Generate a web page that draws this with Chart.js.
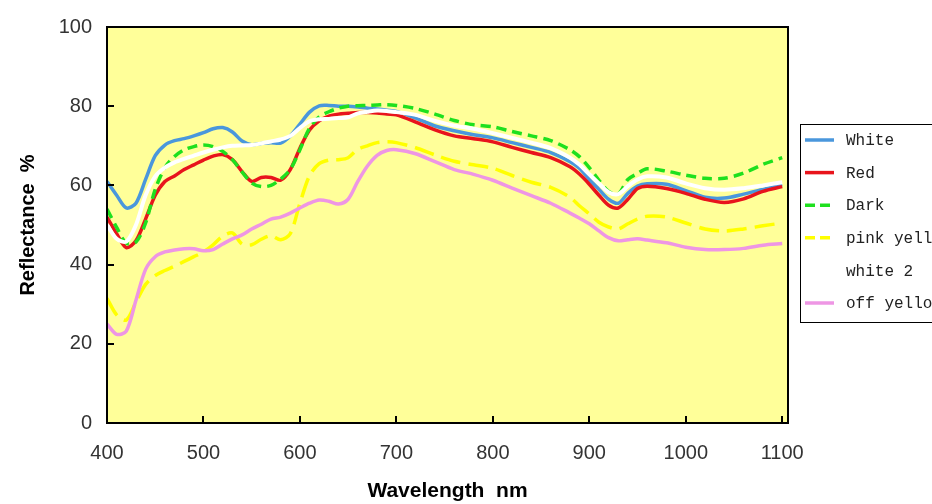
<!DOCTYPE html>
<html>
<head>
<meta charset="utf-8">
<script src="https://cdn.jsdelivr.net/npm/chart.js@4"></script>
<style>
  html, body { margin: 0; padding: 0; background: #fff; overflow: hidden; }
  #wrap { width: 932px; height: 504px; }
</style>
</head>
<body>
<div id="wrap"><canvas id="reflChart" width="932" height="504"></canvas></div>
<script>
// wavelength grid (nm) shared by all samples
const wavelengths = [400, 410, 420, 430, 440, 450, 460, 470, 480, 490, 500, 510, 520, 530, 540, 550, 560, 570, 580, 590,
    600, 610, 620, 630, 640, 650, 660, 670, 680, 690, 700, 720, 740, 760, 780, 800, 820, 840, 860, 880,
    890, 900, 910, 920, 930, 940, 950, 960, 980, 1000, 1020, 1040, 1060, 1080, 1100];

// reflectance % per sample
const white = [61, 57.5, 54.3, 55.5, 61.5, 67.5, 70.2, 71.3, 71.8, 72.5, 73.3, 74.3, 74.6, 73.5, 71.2, 70.3, 70.6, 70.8, 70.7, 72.5,
    75.5, 78.5, 80.1, 80.2, 80, 80, 79.8, 79.5, 79.3, 79, 78.7, 77, 75, 73.8, 72.8, 72, 70.8, 69.6, 68.3, 66,
    64.3, 61.5, 59, 56.5, 55.5, 58, 59.8, 60.4, 60.3, 58.7, 57, 56.8, 57.8, 59, 60.2];
const red = [52, 47.8, 44.3, 46, 51.5, 57.5, 61, 62.4, 64, 65.2, 66.4, 67.4, 67.8, 66.5, 63.5, 61, 62, 62, 61.3, 64,
    69.4, 74, 76.3, 77.5, 78, 78.2, 78.4, 78.4, 78.3, 78, 77.8, 76, 74, 72.5, 71.8, 71, 69.6, 68.3, 67, 64.7,
    62.8, 60.3, 57.5, 55, 54.3, 56.5, 59.2, 59.8, 59.2, 58, 56.5, 55.7, 56.6, 58.5, 59.7];
const dark = [54, 49.4, 45.4, 45.7, 50.5, 59, 64.5, 67.3, 69, 69.8, 70.2, 69.8, 68.6, 66.5, 63.4, 60.6, 59.7, 60, 61.6, 64,
    69, 74.5, 77.3, 78.6, 79.5, 80, 80.1, 80.2, 80.3, 80.4, 80.2, 79.4, 78, 76.4, 75.3, 74.8, 73.6, 72.5, 71.3, 69,
    67.2, 64.5, 61.3, 58.5, 57.8, 61.5, 63, 64.2, 63.6, 62.6, 61.8, 61.8, 63.1, 65.3, 67];
const pinkYellow = [31.5, 27.3, 26, 30.5, 35, 37.2, 38.5, 39.6, 40.8, 42, 43.2, 45, 47.2, 48, 45.2, 45, 46.4, 47.3, 46.3, 47.8,
    55.5, 62.5, 65.5, 66.4, 66.5, 67, 69.1, 70, 70.8, 71, 70.8, 69.5, 67.7, 66.1, 65.2, 64.3, 62.5, 60.8, 59.5, 57,
    54.8, 52.8, 50.7, 49.5, 49, 50.3, 51.5, 52.2, 52, 50.5, 49, 48.5, 49, 49.8, 50.5];
const white2 = [50, 46.5, 45.8, 50, 57.5, 62.3, 64.5, 65.8, 66.7, 67.5, 68.3, 69, 69.6, 70, 70.1, 70.2, 70.6, 71.1, 71.6, 72.5,
    74.5, 76.2, 76.7, 76.8, 77, 77.2, 78.2, 78.6, 78.9, 78.8, 78.5, 77.8, 76.3, 75.1, 74.3, 73.2, 72, 70.8, 69.4, 67,
    65.2, 62.8, 60.5, 58.3, 57.8, 59.8, 61.5, 62.3, 62, 60.5, 59.3, 58.9, 59.3, 60, 60.8];
const offYellow = [25, 22.4, 23.2, 31, 38.8, 42, 43.2, 43.7, 44, 44, 43.5, 43.8, 45.2, 46.5, 47.5, 49, 50.2, 51.5, 52, 53,
    54.3, 55.5, 56.3, 56, 55.3, 56.5, 61, 64.9, 67.6, 68.8, 69, 68, 66, 64, 62.8, 61.3, 59.3, 57.4, 55.5, 53,
    51.7, 50.3, 48.5, 46.8, 46, 46.3, 46.5, 46.2, 45.5, 44.4, 43.8, 43.8, 44.1, 44.9, 45.3];

const xTicks = [400, 500, 600, 700, 800, 900, 1000, 1100];
const yTicks = [0, 20, 40, 60, 80, 100];

const series = [
    { label: 'White', values: white, color: '#4a97dc', dash: [], width: 3.5 },
    { label: 'Red', values: red, color: '#e8141c', dash: [], width: 3.5 },
    { label: 'Dark', values: dark, color: '#1ee01e', dash: [10, 6], width: 3.5 },
    { label: 'pink yellow', values: pinkYellow, color: '#ffff00', dash: [20, 8], width: 3.5 },
    { label: 'white 2', values: white2, color: '#ffffff', dash: [], width: 4 },
    { label: 'off yellow', values: offYellow, color: '#ee96e4', dash: [], width: 3.5 },
];

// yellow plot background, black frame and inward tick marks
const plotFrame = {
    id: 'plotFrame',
    beforeDatasetsDraw(chart) {
        const { ctx, chartArea: a } = chart;
        ctx.save();
        ctx.fillStyle = '#ffff99';
        ctx.fillRect(a.left, a.top, a.right - a.left, a.bottom - a.top);
        ctx.restore();
    },
    afterDatasetsDraw(chart) {
        const { ctx, chartArea: a, scales } = chart;
        ctx.save();
        ctx.strokeStyle = '#000';
        ctx.lineWidth = 2;
        ctx.beginPath();
        yTicks.forEach(v => {
            const y = Math.round(scales.y.getPixelForValue(v));
            ctx.moveTo(a.left, y);
            ctx.lineTo(a.left + 7, y);
        });
        xTicks.forEach(v => {
            const x = Math.round(scales.x.getPixelForValue(v));
            ctx.moveTo(x, a.bottom);
            ctx.lineTo(x, a.bottom - 7);
        });
        ctx.stroke();
        ctx.strokeRect(a.left, a.top, a.right - a.left, a.bottom - a.top);
        ctx.restore();
    }
};

// boxed legend on the right, runs past the canvas edge
const boxLegend = {
    id: 'boxLegend',
    afterDraw(chart) {
        const { ctx } = chart;
        ctx.save();
        ctx.fillStyle = '#fff';
        ctx.fillRect(800, 124, 160, 198);
        ctx.strokeStyle = '#000';
        ctx.lineWidth = 1;
        ctx.strokeRect(800.5, 124.5, 160, 198);
        ctx.font = '16px "Liberation Mono", "DejaVu Sans Mono", monospace';
        ctx.textBaseline = 'middle';
        series.forEach((s, i) => {
            const y = 140 + i * 32.6;
            ctx.strokeStyle = s.color;
            ctx.lineWidth = 3.5;
            ctx.setLineDash(s.dash.length ? [10, 5] : []);
            ctx.beginPath();
            ctx.moveTo(805, y);
            ctx.lineTo(834, y);
            ctx.stroke();
            ctx.setLineDash([]);
            ctx.fillStyle = '#222';
            ctx.fillText(s.label, 846, y + 1);
        });
        ctx.restore();
    }
};

new Chart(document.getElementById('reflChart'), {
    type: 'line',
    data: {
        datasets: series.map((s, i) => ({
            label: s.label,
            data: wavelengths.map((w, j) => ({ x: w, y: s.values[j] })),
            borderColor: s.color,
            borderDash: s.dash,
            borderWidth: s.width,
            pointRadius: 0,
            fill: false,
            tension: 0.3,
            order: series.length - 1 - i,
        }))
    },
    options: {
        responsive: false,
        animation: false,
        devicePixelRatio: 1,
        layout: { padding: { left: 0, top: 20, right: 144, bottom: 0 } },
        plugins: {
            legend: { display: false },
            tooltip: { enabled: false },
        },
        scales: {
            x: {
                type: 'linear',
                min: 400,
                max: 1106,
                afterBuildTicks: scale => { scale.ticks = xTicks.map(v => ({ value: v })); },
                afterFit: scale => { scale.height = 81; },
                grid: { display: false, drawTicks: false },
                border: { display: false },
                ticks: {
                    padding: 18,
                    color: '#333',
                    font: { family: '"Liberation Sans Narrow", "Liberation Sans", Arial', size: 20 },
                    callback: v => String(v),
                },
                title: {
                    display: true,
                    text: 'Wavelength  nm',
                    color: '#000',
                    font: { family: '"Liberation Sans", Arial', size: 21, weight: 'bold' },
                    padding: { top: 0, bottom: 0 },
                },
            },
            y: {
                min: 0,
                max: 100,
                afterBuildTicks: scale => { scale.ticks = yTicks.map(v => ({ value: v })); },
                afterFit: scale => { scale.width = 107; },
                grid: { display: false, drawTicks: false },
                border: { display: false },
                ticks: {
                    padding: 15,
                    color: '#333',
                    font: { family: '"Liberation Sans Narrow", "Liberation Sans", Arial', size: 20 },
                    callback: v => String(v),
                },
                title: {
                    display: true,
                    text: 'Reflectance  %',
                    color: '#000',
                    font: { family: '"Liberation Sans", Arial', size: 20, weight: 'bold' },
                    padding: { top: 16, bottom: 0 },
                },
            },
        },
    },
    plugins: [plotFrame, boxLegend],
});
</script>
</body>
</html>
